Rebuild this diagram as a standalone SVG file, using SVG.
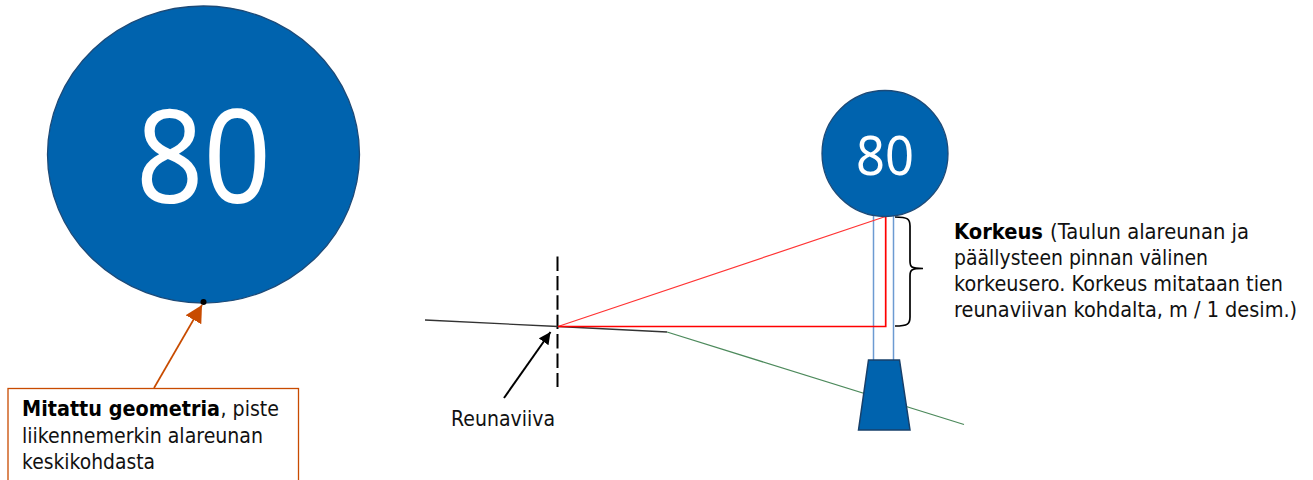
<svg xmlns="http://www.w3.org/2000/svg" width="1313" height="480" viewBox="0 0 1313 480">
<style>
text{font-family:"DejaVu Sans",Verdana,sans-serif;fill:#111}
.l{font-size:21px}
.blue{fill:#0063ae;stroke:#1c4a78;stroke-width:1.300}
.n{font-family:"Noto Sans","DejaVu Sans",sans-serif;text-anchor:middle}
.b{font-weight:700;fill:#000}
</style>
<defs>
<marker id="oa" markerUnits="userSpaceOnUse" markerWidth="20" markerHeight="20" refX="17" refY="9" orient="auto"><path d="M0 0L17 9L0 18Z" fill="#c84b00"/></marker>
<marker id="ka" markerUnits="userSpaceOnUse" markerWidth="14" markerHeight="14" refX="12" refY="6" orient="auto"><path d="M0 0L12 6L0 12Z" fill="#000"/></marker>
</defs>
<g id="big-sign">
<ellipse class="blue" cx="203.500" cy="154.500" rx="156" ry="148.500"/>
<text class="n" x="203.500" y="203" style="fill:#fff" font-size="129" textLength="135" lengthAdjust="spacingAndGlyphs">80</text>
<circle cx="203.500" cy="302" r="3" fill="#000"/>
</g>
<g id="callout">
<rect x="8" y="388.500" width="290.500" height="100" fill="#fff" stroke="#c84b00" stroke-width="1.300"/>
<text class="l b" transform="translate(22 416) scale(.85 1)" x="0" y="0" textLength="233" lengthAdjust="spacingAndGlyphs">Mitattu geometria</text>
<text class="l" x="220.500" y="416" textLength="58.500" lengthAdjust="spacingAndGlyphs">, piste</text>
<text class="l" x="22" y="442.700" textLength="241" lengthAdjust="spacingAndGlyphs">liikennemerkin alareunan</text>
<text class="l" x="22" y="469.300" textLength="133" lengthAdjust="spacingAndGlyphs">keskikohdasta</text>
</g>
<g id="connectors" fill="none">
<line x1="154" y1="388" x2="202" y2="305" stroke="#c84b00" stroke-width="1.700" marker-end="url(#oa)"/>
<line x1="504" y1="398" x2="550.500" y2="332" stroke="#000" stroke-width="2" marker-end="url(#ka)"/>
<line x1="557.500" y1="256.500" x2="557.500" y2="387" stroke="#000" stroke-width="2" stroke-dasharray="14.400 5"/>
<path d="M425 320L558 326.500L667 332" stroke="#333" stroke-width="1.300"/>
<line x1="667" y1="332" x2="964" y2="424.500" stroke="#4d8a5c" stroke-width="1.300"/>
<line x1="873.500" y1="214" x2="873.500" y2="361" stroke="#6c9bd2" stroke-width="1.500"/>
<line x1="893.500" y1="214" x2="893.500" y2="361" stroke="#6c9bd2" stroke-width="1.500"/>
<path d="M558 326.500L885.500 216.500" stroke="#f33" stroke-width="1.200"/>
<path d="M885.700 216V326.500H558" stroke="#f00" stroke-width="1.700"/>
<path d="M895 217C908 217 910 219 910 226V261C910 267 911 268.500 923 268.500C911 268.500 910 270 910 276V317C910 324 908 326 895 326" stroke="#000" stroke-width="1.700"/>
</g>
<g id="small-sign">
<path class="blue" d="M868.500 360H899.500L910 430H858.500Z" style="stroke:#17406b;stroke-width:1.500"/>
<circle class="blue" cx="885" cy="153.500" r="63"/>
<text class="n" x="885" y="174.500" style="fill:#fff" font-size="54" textLength="58" lengthAdjust="spacingAndGlyphs">80</text>
</g>
<g id="reunaviiva-label"><text class="l" x="451" y="425.700" textLength="104" lengthAdjust="spacingAndGlyphs">Reunaviiva</text></g>
<g id="korkeus-label">
<text class="l b" x="954" y="239.300" textLength="89" lengthAdjust="spacingAndGlyphs">Korkeus</text>
<text class="l" x="1050" y="239.300" textLength="199" lengthAdjust="spacingAndGlyphs">(Taulun alareunan ja</text>
<text class="l" x="954" y="265" textLength="254" lengthAdjust="spacingAndGlyphs">päällysteen pinnan välinen</text>
<text class="l" x="954" y="291" textLength="329" lengthAdjust="spacingAndGlyphs">korkeusero. Korkeus mitataan tien</text>
<text class="l" transform="translate(954 317.300) scale(.915 1)" x="0" y="0" textLength="375" lengthAdjust="spacingAndGlyphs">reunaviivan kohdalta, m / 1 desim.)</text>
</g>
</svg>
